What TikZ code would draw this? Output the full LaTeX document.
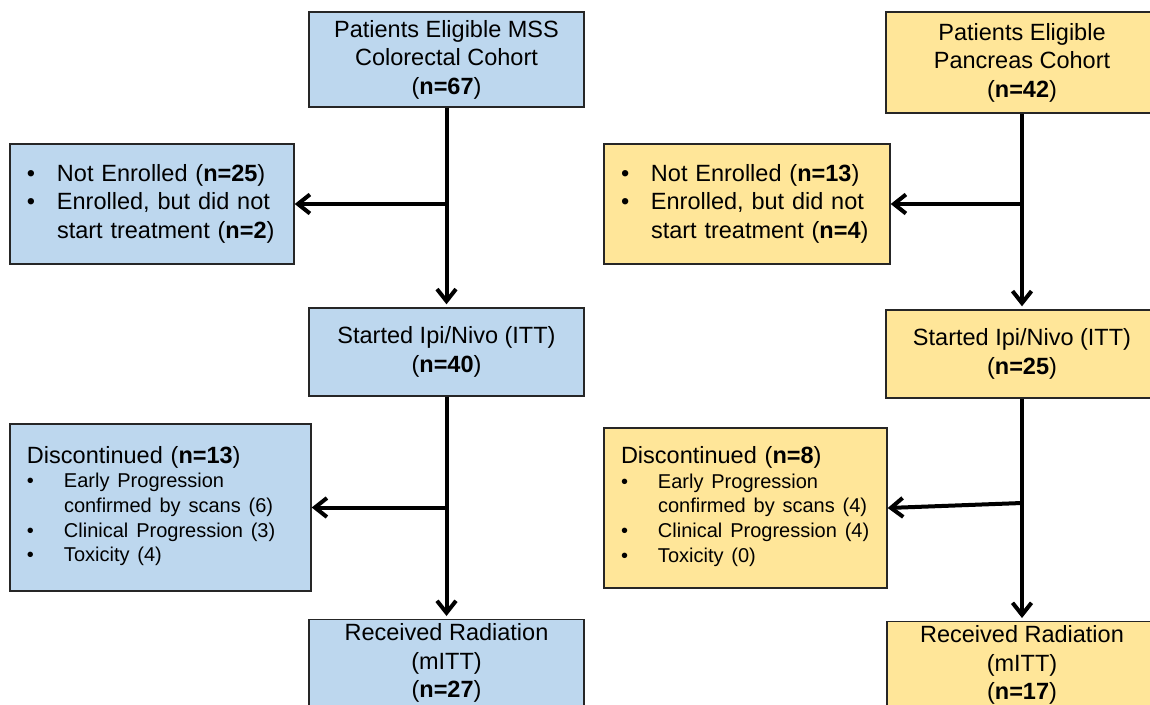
\documentclass[tikz,border=0pt]{standalone}
\usepackage{fontspec}
\setmainfont{Liberation Sans}
\usetikzlibrary{arrows.meta}

\definecolor{mssblue}{RGB}{189,215,238}
\definecolor{pancyellow}{RGB}{255,230,153}
\definecolor{edgecolor}{RGB}{38,38,38}

\newlength{\du}
\setlength{\du}{1pt}
\newcommand{\bigtxt}{\fontsize{23.5}{28.5}\selectfont}
\newcommand{\smalltxt}{\fontsize{20}{24.6}\selectfont}

\tikzset{
  cohortbox/.style={draw=edgecolor, line width=1.4\du, inner sep=0pt, align=center, font=\bigtxt},
  mssbox/.style={cohortbox, fill=mssblue},
  pancbox/.style={cohortbox, fill=pancyellow},
  listbox/.style={align=left, inner xsep=17\du, inner ysep=0pt},
  flowarrow/.style={line width=4\du, -{Straight Barb[length=12pt,width=19pt,line width=4pt]}},
  shortarrow/.style={flowarrow, shorten >=3pt}
}

\begin{document}
\begin{tikzpicture}
\pgftransformyscale{-1.000000}
\useasboundingbox (0\du,0\du) rectangle (1150\du,704\du);
\clip (0\du,0\du) rectangle (1150\du,704\du);
\fill[white] (0\du,0\du) rectangle (1150\du,704\du);
% MSS colorectal cohort
\node[mssbox, minimum width=275\du, minimum height=95\du] (mssElig) at (446.5\du,59.5\du){Patients Eligible MSS\\Colorectal Cohort\\(\textbf{n=67})};
\node[mssbox, listbox, minimum width=284\du, minimum height=120\du, text width=250\du] (mssNotEnr) at (152\du,204\du){\begin{tabular}{@{}p{30\du}@{}l@{}}
\textbullet & Not Enrolled (\textbf{n=25})\\
\textbullet & Enrolled, but did not\\
 & start treatment (\textbf{n=2})
\end{tabular}};
\node[mssbox, minimum width=275\du, minimum height=88\du] (mssITT) at (446.5\du,352\du){Started Ipi/Nivo (ITT)\\(\textbf{n=40})};
\node[mssbox, listbox, minimum width=301\du, minimum height=167\du, text width=267\du] (mssDisc) at (160.5\du,507.5\du){\smalltxt\begin{tabular}{@{}p{37\du}@{}l@{}}
\multicolumn{2}{@{}l@{}}{\bigtxt Discontinued (\textbf{n=13})}\\
\textbullet & Early Progression\\
 & confirmed by scans (6)\\
\textbullet & Clinical Progression (3)\\
\textbullet & Toxicity (4)
\end{tabular}};
\node[mssbox, anchor=north, minimum width=275\du, inner ysep=4\du, text depth=40\du] (mssRad) at (446.5\du,619\du){Received Radiation\\(mITT)\\(\textbf{n=27})};
% pancreas cohort
\node[pancbox, minimum width=272\du, minimum height=101\du] (pancElig) at (1022\du,62.5\du){Patients Eligible\\Pancreas Cohort\\(\textbf{n=42})};
\node[pancbox, listbox, minimum width=286\du, minimum height=120\du, text width=252\du] (pancNotEnr) at (747\du,204\du){\begin{tabular}{@{}p{30\du}@{}l@{}}
\textbullet & Not Enrolled (\textbf{n=13})\\
\textbullet & Enrolled, but did not\\
 & start treatment (\textbf{n=4})
\end{tabular}};
\node[pancbox, minimum width=272\du, minimum height=88\du] (pancITT) at (1022\du,354\du){Started Ipi/Nivo (ITT)\\(\textbf{n=25})};
\node[pancbox, listbox, minimum width=283\du, minimum height=160\du, text width=249\du] (pancDisc) at (745.5\du,508\du){\smalltxt\begin{tabular}{@{}p{37\du}@{}l@{}}
\multicolumn{2}{@{}l@{}}{\bigtxt Discontinued (\textbf{n=8})}\\
\textbullet & Early Progression\\
 & confirmed by scans (4)\\
\textbullet & Clinical Progression (4)\\
\textbullet & Toxicity (0)
\end{tabular}};
\node[pancbox, anchor=north, minimum width=270\du, inner ysep=4\du, text depth=40\du] (pancRad) at (1022\du,621\du){Received Radiation\\(mITT)\\(\textbf{n=17})};
% connectors
\draw[shortarrow] (mssElig.south) -- (mssITT.north);
\draw[flowarrow] (mssElig.south |- mssNotEnr.east) -- (mssNotEnr.east);
\draw[shortarrow] (mssITT.south) -- (mssRad.north);
\draw[flowarrow] (mssITT.south |- mssDisc.east) -- (mssDisc.east);
\draw[shortarrow] (pancElig.south) -- (pancITT.north);
\draw[flowarrow] (pancElig.south |- pancNotEnr.east) -- (pancNotEnr.east);
\draw[shortarrow] (pancITT.south) -- (pancRad.north);
\coordinate (pancDiscFork) at (1022\du,503\du);
\draw[flowarrow] (pancDiscFork) -- (pancDisc.east);
\end{tikzpicture}
\end{document}
